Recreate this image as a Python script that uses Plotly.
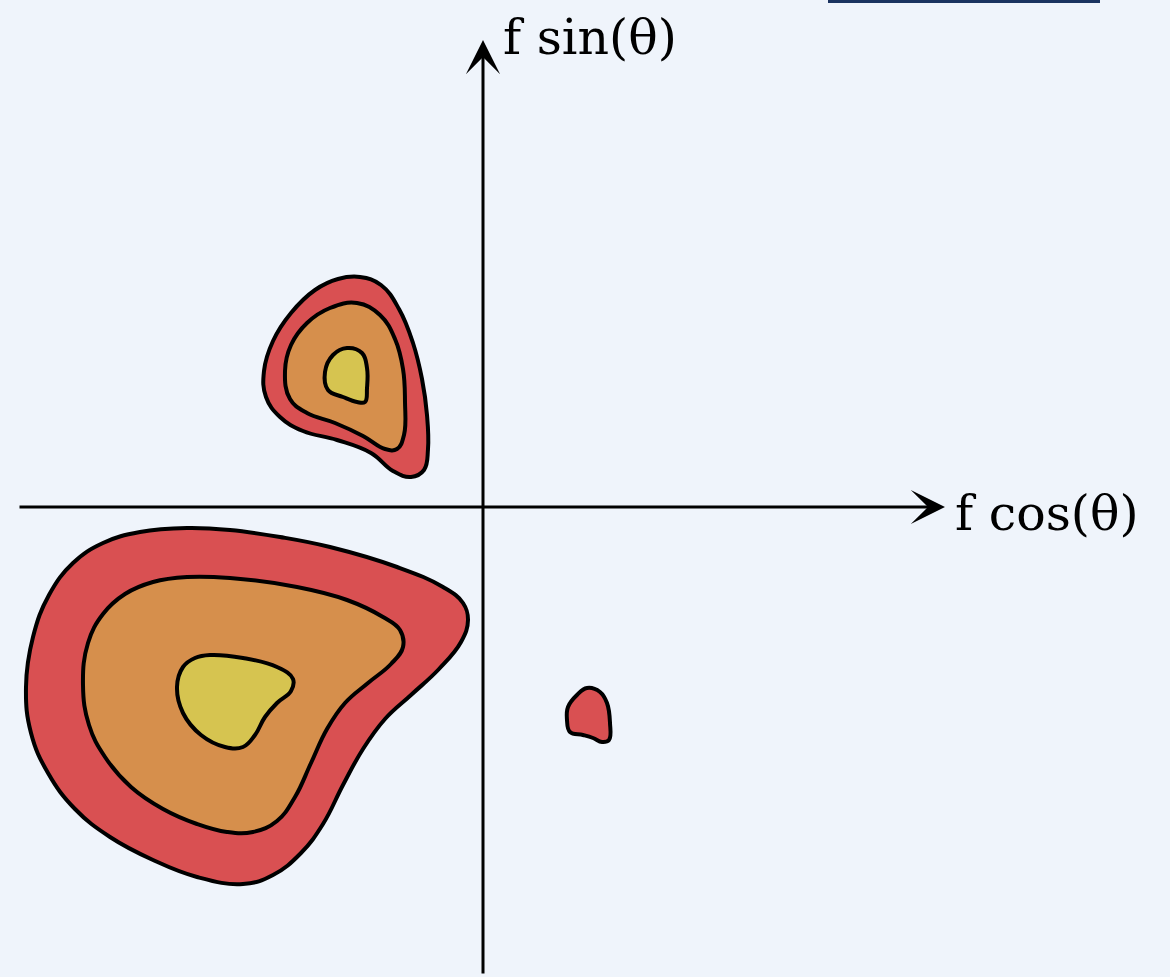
import plotly.graph_objects as go

# Density level outlines in (f cos θ, f sin θ) units
lower_outer_x = [-2.96, -2.53, -2.03, -1.53, -0.86, -0.40, -0.20, -0.15, -0.22, -0.44, -0.72,
                 -0.98, -1.20, -1.40, -1.60, -1.82, -2.10, -2.40, -2.86, -3.30, -3.73, -4.08,
                 -4.35, -4.52, -4.57, -4.50, -4.34, -4.10, -3.80, -3.43]
lower_outer_y = [-0.21, -0.23, -0.30, -0.40, -0.60, -0.80, -0.96, -1.13, -1.35, -1.62, -1.88,
                 -2.12, -2.42, -2.78, -3.17, -3.46, -3.68, -3.77, -3.70, -3.53, -3.30, -3.02,
                 -2.66, -2.26, -1.80, -1.30, -0.88, -0.56, -0.36, -0.25]

lower_mid_x = [-2.96, -2.53, -1.86, -1.36, -1.00, -0.83, -0.80, -0.92, -1.15, -1.38, -1.56,
               -1.72, -1.88, -2.06, -2.30, -2.56, -2.86, -3.20, -3.52, -3.78, -3.94, -4.00,
               -3.95, -3.80, -3.58, -3.30]
lower_mid_y = [-0.70, -0.71, -0.80, -0.93, -1.10, -1.23, -1.40, -1.57, -1.76, -1.96, -2.22,
               -2.56, -2.90, -3.14, -3.25, -3.25, -3.17, -3.02, -2.80, -2.50, -2.18, -1.78,
               -1.36, -1.07, -0.87, -0.75]

lower_inner_x = [-2.73, -2.40, -2.06, -1.90, -1.92, -2.06, -2.18, -2.28, -2.40, -2.58, -2.82,
                 -3.00, -3.06, -3.00, -2.88]
lower_inner_y = [-1.48, -1.51, -1.60, -1.72, -1.84, -1.96, -2.10, -2.28, -2.40, -2.40, -2.28,
                 -2.06, -1.80, -1.60, -1.51]

upper_outer_x = [-1.23, -1.02, -0.84, -0.70, -0.61, -0.56, -0.55, -0.59, -0.72, -0.90, -1.12,
                 -1.46, -1.80, -2.03, -2.17, -2.19, -2.10, -1.92, -1.68, -1.45]
upper_outer_y = [2.30, 2.22, 1.98, 1.64, 1.28, 0.92, 0.58, 0.37, 0.30, 0.36, 0.54,
                 0.67, 0.76, 0.90, 1.10, 1.36, 1.66, 1.94, 2.17, 2.28]

upper_mid_x = [-1.26, -1.03, -0.88, -0.80, -0.78, -0.79, -0.86, -0.98, -1.20, -1.48, -1.76,
               -1.93, -1.98, -1.92, -1.76, -1.53]
upper_mid_y = [2.04, 1.92, 1.68, 1.38, 1.05, 0.72, 0.58, 0.58, 0.71, 0.84, 0.94,
               1.08, 1.36, 1.62, 1.84, 1.99]

upper_inner_x = [-1.36, -1.21, -1.16, -1.16, -1.18, -1.26, -1.40, -1.55, -1.58, -1.50]
upper_inner_y = [1.59, 1.54, 1.39, 1.19, 1.05, 1.05, 1.10, 1.17, 1.35, 1.52]

small_x = [1.04, 1.17, 1.24, 1.27, 1.26, 1.19, 1.10, 1.00, 0.87, 0.84, 0.85, 0.94]
small_y = [-1.81, -1.85, -1.96, -2.16, -2.33, -2.35, -2.31, -2.28, -2.25, -2.13, -2.00, -1.88]

level_colors = {"outer": "#d95052", "mid": "#d68f4c", "inner": "#d6c450"}
bg = "#eff4fb"

regions = [
    (lower_outer_x, lower_outer_y, "outer"),
    (upper_outer_x, upper_outer_y, "outer"),
    (small_x, small_y, "outer"),
    (lower_mid_x, lower_mid_y, "mid"),
    (upper_mid_x, upper_mid_y, "mid"),
    (lower_inner_x, lower_inner_y, "inner"),
    (upper_inner_x, upper_inner_y, "inner"),
]

fig = go.Figure()
for xs, ys, lvl in regions:
    fig.add_trace(go.Scatter(
        x=list(xs) + [xs[0]], y=list(ys) + [ys[0]],
        mode="lines", fill="toself", fillcolor=level_colors[lvl],
        line=dict(color="black", width=4, shape="spline", smoothing=1.2),
        hoverinfo="skip", showlegend=False,
    ))

# Coordinate axes drawn as arrows
arrow_style = dict(xref="x", yref="y", axref="x", ayref="y", showarrow=True, arrowhead=3,
                   arrowsize=1.9, arrowwidth=3, arrowcolor="black", text="",
                   standoff=0, startstandoff=0)
fig.add_annotation(x=4.62, y=0, ax=-4.65, ay=0, **arrow_style)
fig.add_annotation(x=0, y=4.67, ax=0, ay=-4.68, **arrow_style)

label_font = dict(family="DejaVu Serif", size=49, color="black")
fig.add_annotation(x=4.70, y=-0.06, xref="x", yref="y", text="f cos(θ)", showarrow=False,
                   xanchor="left", yanchor="middle", font=label_font)
fig.add_annotation(x=0.18, y=4.70, xref="x", yref="y", text="f sin(θ)", showarrow=False,
                   xanchor="left", yanchor="middle", font=label_font)

# Dark strip along the top edge
fig.add_shape(type="rect", xref="paper", yref="paper", x0=828 / 1170, x1=1100 / 1170,
              y0=1 - 3 / 977, y1=1.01, fillcolor="#1b3360", line=dict(width=0))

fig.update_xaxes(range=[-4.83, 6.87], visible=False, showgrid=False, zeroline=False)
fig.update_yaxes(range=[-4.70, 5.07], visible=False, showgrid=False, zeroline=False)
fig.update_layout(width=1170, height=977, autosize=False, margin=dict(l=0, r=0, t=0, b=0),
                  paper_bgcolor=bg, plot_bgcolor=bg)

fig.write_html("out.html", config={"displayModeBar": False})
